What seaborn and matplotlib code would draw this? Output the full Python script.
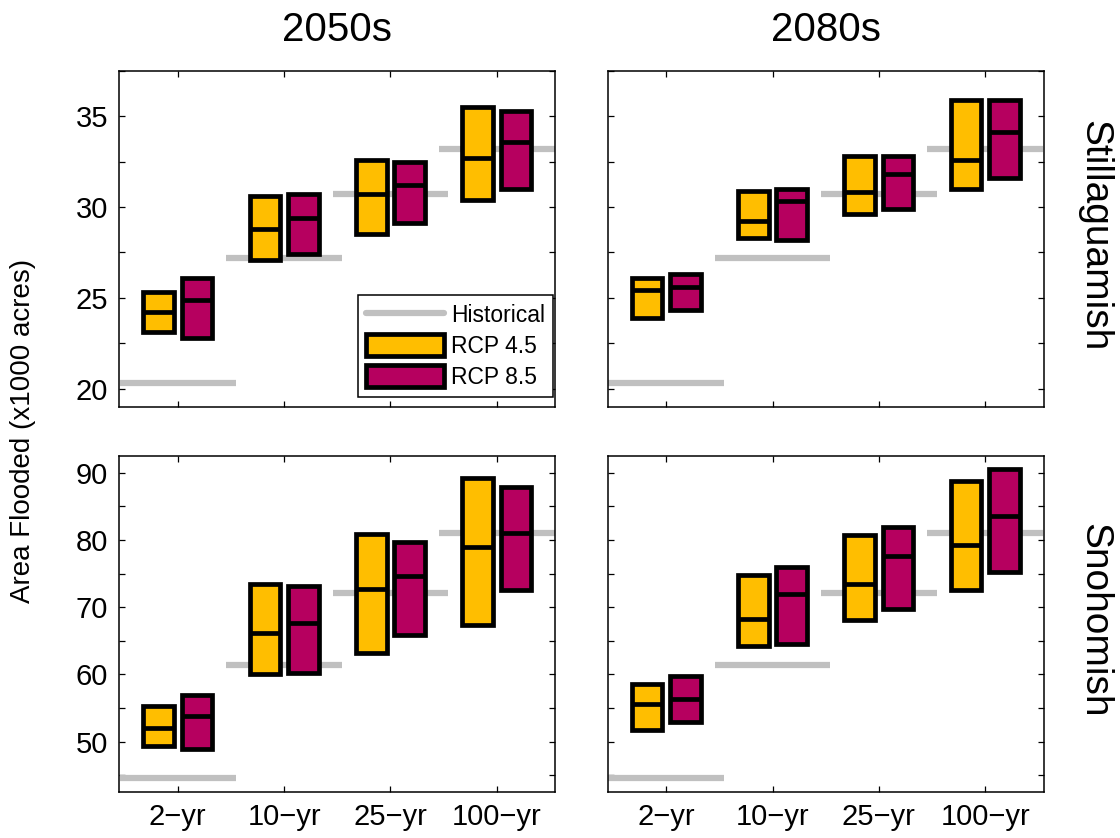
import pandas as pd
import seaborn as sns
import matplotlib
matplotlib.use('Agg')
import matplotlib.pyplot as plt
from matplotlib.patches import Patch
from matplotlib.lines import Line2D
from matplotlib.ticker import MultipleLocator

# return periods on the x axis
periods = ['2\u2212yr', '10\u2212yr', '25\u2212yr', '100\u2212yr']
eras = ['2050s', '2080s']
basins = ['Stillaguamish', 'Snohomish']

# historical flooded area (x1000 acres)
hist_still = [20.3, 27.2, 30.7, 33.2]
hist_snoh = [44.6, 61.4, 72.1, 81.0]

# Stillaguamish, 2050s
still_2050_45_low = [23.1, 27.1, 28.5, 30.4]
still_2050_45_med = [24.2, 28.8, 30.7, 32.7]
still_2050_45_high = [25.3, 30.6, 32.6, 35.5]
still_2050_85_low = [22.8, 27.4, 29.1, 31.0]
still_2050_85_med = [24.9, 29.4, 31.2, 33.6]
still_2050_85_high = [26.1, 30.7, 32.5, 35.3]
# Stillaguamish, 2080s
still_2080_45_low = [23.9, 28.3, 29.6, 31.0]
still_2080_45_med = [25.4, 29.2, 30.8, 32.6]
still_2080_45_high = [26.1, 30.9, 32.8, 35.9]
still_2080_85_low = [24.3, 28.2, 29.9, 31.6]
still_2080_85_med = [25.6, 30.3, 31.8, 34.1]
still_2080_85_high = [26.3, 31.0, 32.8, 35.9]
# Snohomish, 2050s
snoh_2050_45_low = [49.4, 60.0, 63.2, 67.4]
snoh_2050_45_med = [52.0, 66.1, 72.7, 79.0]
snoh_2050_45_high = [55.3, 73.4, 80.9, 89.3]
snoh_2050_85_low = [48.9, 60.2, 65.8, 72.5]
snoh_2050_85_med = [53.8, 67.6, 74.6, 81.1]
snoh_2050_85_high = [57.0, 73.2, 79.7, 87.9]
# Snohomish, 2080s
snoh_2080_45_low = [51.7, 64.2, 68.1, 72.6]
snoh_2080_45_med = [55.6, 68.2, 73.5, 79.2]
snoh_2080_45_high = [58.5, 74.8, 80.7, 88.8]
snoh_2080_85_low = [52.9, 64.5, 69.8, 75.3]
snoh_2080_85_med = [56.4, 72.0, 77.6, 83.5]
snoh_2080_85_high = [59.7, 76.0, 82.0, 90.6]

YELLOW = '#FFBE00'
MAGENTA = '#B6005F'
GREY = '#C0C0C0'

sns.set_theme(style='ticks')
plt.rcParams['font.family'] = ['Liberation Sans', 'DejaVu Sans']
plt.rcParams['text.color'] = 'black'
plt.rcParams['axes.labelcolor'] = 'black'
plt.rcParams['xtick.color'] = 'black'
plt.rcParams['ytick.color'] = 'black'

rows = []
table = {
    ('Stillaguamish', '2050s', 'RCP 4.5'): (still_2050_45_low, still_2050_45_med, still_2050_45_high),
    ('Stillaguamish', '2050s', 'RCP 8.5'): (still_2050_85_low, still_2050_85_med, still_2050_85_high),
    ('Stillaguamish', '2080s', 'RCP 4.5'): (still_2080_45_low, still_2080_45_med, still_2080_45_high),
    ('Stillaguamish', '2080s', 'RCP 8.5'): (still_2080_85_low, still_2080_85_med, still_2080_85_high),
    ('Snohomish', '2050s', 'RCP 4.5'): (snoh_2050_45_low, snoh_2050_45_med, snoh_2050_45_high),
    ('Snohomish', '2050s', 'RCP 8.5'): (snoh_2050_85_low, snoh_2050_85_med, snoh_2050_85_high),
    ('Snohomish', '2080s', 'RCP 4.5'): (snoh_2080_45_low, snoh_2080_45_med, snoh_2080_45_high),
    ('Snohomish', '2080s', 'RCP 8.5'): (snoh_2080_85_low, snoh_2080_85_med, snoh_2080_85_high),
}
for (basin, era, scen), (lo, md, hi) in table.items():
    for i, p in enumerate(periods):
        rows.append(dict(basin=basin, era=era, scen=scen, period=p, pos=i + 1,
                         low=lo[i], med=md[i], high=hi[i]))
df = pd.DataFrame(rows)
hist = {'Stillaguamish': hist_still, 'Snohomish': hist_snoh}

fig = plt.figure(figsize=(11.2, 8.38), dpi=100)
W, H = 1120, 838
lefts = [119.3, 607.7]
tops = [70.7, 456.0]
aw, ah = 436.0, 336.0

scen_style = {'RCP 4.5': (-0.18, YELLOW), 'RCP 8.5': (0.18, MAGENTA)}
bw = 0.29
EDGE = 3.4
ylims = {'Stillaguamish': (19, 37.5), 'Snohomish': (42.5, 92.5)}

axes = {}
for r, basin in enumerate(basins):
    for c, era in enumerate(eras):
        ax = fig.add_axes([lefts[c] / W, 1 - (tops[r] + ah) / H, aw / W, ah / H])
        axes[(r, c)] = ax
        x = list(range(1, 5))
        ax.hlines(hist[basin], [v - 0.545 for v in x], [v + 0.545 for v in x],
                  color=GREY, lw=4.5, zorder=1)
        sub = df[(df.basin == basin) & (df.era == era)]
        for scen, (off, col) in scen_style.items():
            s = sub[sub.scen == scen]
            ax.bar(s.pos + off, s.high - s.low, bottom=s.low, width=bw, color=col,
                   edgecolor='black', linewidth=EDGE, zorder=2)
            ax.hlines(s.med, s.pos + off - bw / 2, s.pos + off + bw / 2,
                      color='black', lw=EDGE, zorder=3)
        ax.set_xlim(0.45, 4.55)
        ax.set_ylim(*ylims[basin])
        ax.set_xticks(x)
        if basin == 'Stillaguamish':
            ax.yaxis.set_major_locator(MultipleLocator(5))
            ax.yaxis.set_minor_locator(MultipleLocator(2.5))
        else:
            ax.yaxis.set_major_locator(MultipleLocator(10))
            ax.yaxis.set_minor_locator(MultipleLocator(5))
        ax.tick_params(which='both', direction='in', top=True, right=True,
                       length=4, width=0.9, color='black', labelsize=21, pad=8)
        ax.tick_params(axis='x', which='minor', bottom=False, top=False)
        if r == 1:
            ax.set_xticklabels(periods)
        else:
            ax.set_xticklabels([])
        if c == 1:
            ax.set_yticklabels([])
        for sp in ax.spines.values():
            sp.set_color('black')
            sp.set_linewidth(1.1)
        if r == 0:
            ax.text(0.5, 1.121, era, transform=ax.transAxes, ha='center',
                    va='center', fontsize=29)
        if c == 1:
            ax.text(1.115, 0.51, basin, transform=ax.transAxes, ha='center',
                    va='center', rotation=-90, fontsize=28)

handles = [Line2D([], [], color=GREY, lw=4.5),
           Patch(facecolor=YELLOW, edgecolor='black', linewidth=EDGE),
           Patch(facecolor=MAGENTA, edgecolor='black', linewidth=EDGE)]
leg = axes[(0, 0)].legend(handles, ['Historical', 'RCP 4.5', 'RCP 8.5'],
                          loc='lower right', bbox_to_anchor=(0.995, 0.03),
                          borderaxespad=0, fontsize=16.5, fancybox=False,
                          framealpha=1, edgecolor='black', handlelength=3.4,
                          handleheight=1.1, handletextpad=0.3,
                          labelspacing=0.3, borderpad=0.35)
leg.get_frame().set_linewidth(1.1)

fig.text(23 / W, 1 - 431 / H, 'Area Flooded (x1000 acres)', rotation=90,
         ha='center', va='center', fontsize=20)

plt.savefig('out.png', dpi=100)
